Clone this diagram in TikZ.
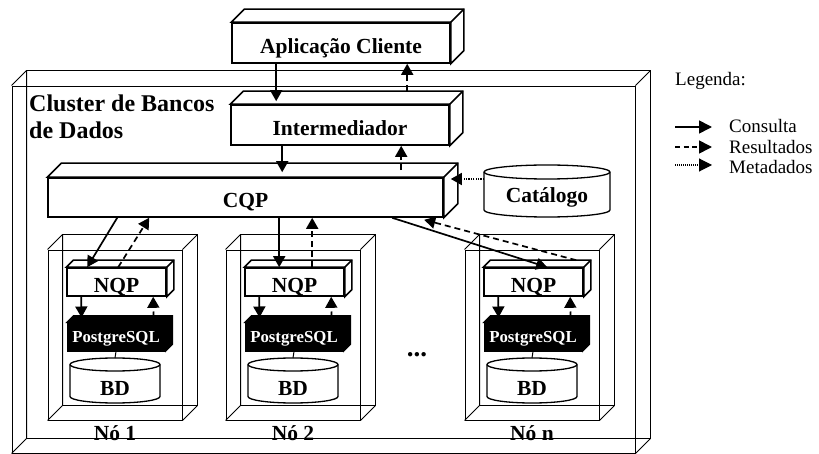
\documentclass[tikz,border=0pt]{standalone}
\usepackage{fontspec}
\setmainfont{Liberation Serif}
\usetikzlibrary{arrows.meta,calc}

% 3D extrusion (top and right faces) of a box node
\newcommand\myextrude[3]{%
  \filldraw[#3] (#1.north west) -- ++(#2,-#2) -- ($(#1.north east)+(#2,-#2)$) -- ($(#1.south east)+(#2,-#2)$) -- (#1.south east) -- (#1.north east) -- cycle;
  \draw[#3] (#1.north east) -- ++(#2,-#2);
}
% wireframe back face and edges of a transparent box node
\newcommand\mywire[3]{%
  \draw[#3] ($(#1.north west)+(#2,-#2)$) rectangle ($(#1.south east)+(#2,-#2)$)
    (#1.north west) -- ++(#2,-#2) (#1.north east) -- ++(#2,-#2)
    (#1.south west) -- ++(#2,-#2) (#1.south east) -- ++(#2,-#2);
}
% cylinder around a coordinate: name, rx, top offset, bottom offset, ry
\newcommand\mycyl[5]{%
  \filldraw[fill=white, line width=1.3pt] ($(#1)+(-#2,#3)$) -- ($(#1)+(-#2,#4)$)
    arc[start angle=180, end angle=360, x radius=#2pt, y radius=#5pt]
    -- ($(#1)+(#2,#3)$)
    arc[start angle=0, end angle=180, x radius=#2pt, y radius=#5pt] -- cycle;
  \draw[line width=1.3pt] ($(#1)+(-#2,#3)$) arc[start angle=180, end angle=360, x radius=#2pt, y radius=#5pt];
}

\tikzset{
  comp/.style={draw, fill=white, line width=1.6pt, inner sep=0pt,
    font=\bfseries\fontsize{21.5}{24}\selectfont, text height=20.6pt, text depth=0pt},
  compside/.style={fill=white, draw=black, line width=1.6pt},
  pgbox/.style={draw, fill=black, line width=1pt, inner sep=0pt, text=white,
    font=\bfseries\fontsize{16.8}{18}\selectfont, text height=11.2pt, text depth=0pt,
    minimum width=98pt, minimum height=28pt},
  pgside/.style={fill=black, draw=black, line width=1pt},
  nodeframe/.style={draw, line width=0.9pt, inner sep=0pt, minimum width=134pt, minimum height=170pt},
  thinline/.style={line width=0.9pt},
  lab/.style={font=\bfseries\fontsize{21.5}{24}\selectfont, inner sep=0pt, anchor=base},
  leg/.style={font=\fontsize{19}{22}\selectfont, inner sep=0pt, anchor=base west},
  cons/.style={line width=1.7pt, -{Triangle[length=11pt,width=12pt]}},
  res/.style={cons, dash pattern=on 6pt off 4pt},
  metad/.style={cons, dash pattern=on 1.2pt off 1.2pt},
  legcons/.style={line width=1.6pt, -{Triangle[length=13pt,width=13pt]}},
  legres/.style={legcons, dash pattern=on 5pt off 3.5pt},
  legmeta/.style={legcons, line width=1.1pt, dash pattern=on 1pt off 1pt},
}

% one database node: id, centre x, label
\newcommand\mydbnode[3]{%
  \node[nodeframe] (f#1) at (#2,335) {};
  \mywire{f#1}{15}{thinline}
  \node[comp, minimum width=99pt, minimum height=28pt] (nqp#1) at (#2+1.5,282) {NQP};
  \myextrude{nqp#1}{7}{compside}
  \node[pgbox] (pg#1) at (#2+1,337) {PostgreSQL};
  \myextrude{pg#1}{7}{pgside}
  \coordinate (bdc#1) at (#2,380.5);
  \mycyl{bdc#1}{45}{-16}{16}{6.5}
  \node[lab] (bd#1) at (#2,395) {BD};
  \coordinate (bdtop#1) at (#2,358);
  \draw[line width=1pt] (pg#1.south) -- (bdtop#1);
  \draw[cons] ([xshift=15pt]nqp#1.south west) -- ($(pg#1.north west)+(15,-5)$);
  \draw[res] ($(pg#1.north west)+(87,-5)$) -- ([xshift=87pt]nqp#1.south west);
  \node[lab] (lbl#1) at (#2,440) {#3};
}

\begin{document}
\begin{tikzpicture}[x=1pt, y=-1pt]
\useasboundingbox (0,0) rectangle (819,454);

% cluster frame
\node[draw, thinline, inner sep=0pt, minimum width=623pt, minimum height=367pt] (cluster) at (323.5,269.5) {};
\mywire{cluster}{15}{thinline}
\node[anchor=north west, align=left, inner sep=0pt, font=\bfseries\fontsize{24}{27}\selectfont] (clabel) at (29,94.5) {Cluster de Bancos\\de Dados};

% main components
\node[comp, minimum width=218pt, minimum height=40pt] (aplic) at (341,43) {Aplicação Cliente};
\myextrude{aplic}{13}{compside}
\node[comp, minimum width=218pt, minimum height=40pt] (inter) at (340,125) {Intermediador};
\myextrude{inter}{13}{compside}
\node[comp, minimum width=395pt, minimum height=39pt] (cqp) at (245.5,197.5) {CQP};
\myextrude{cqp}{14}{compside}

% catalogue
\coordinate (catc) at (547,191);
\mycyl{catc}{63}{-19}{19}{7}
\node[lab] (cat) at (547,203) {Catálogo};

% database nodes
\mydbnode{1}{115}{Nó 1}
\mydbnode{2}{293}{Nó 2}
\mydbnode{n}{532}{Nó n}
\node[lab, font=\bfseries\fontsize{27}{30}\selectfont] (dots) at (417,356) {...};

% connectors
\draw[cons] ([xshift=45pt]aplic.south west) -- ($(inter.north west)+(46,-3)$);
\draw[res] ($(inter.north west)+(177,-13)$) -- ([xshift=176pt]aplic.south west);
\draw[cons] ([xshift=52pt]inter.south west) -- ($(cqp.north west)+(235,-5)$);
\draw[res] ($(cqp.north west)+(354,-7)$) -- ([xshift=171pt]inter.south west);
\draw[metad] ($(catc)+(-63,-12)$) -- ($(cqp.east)+(7,-18.5)$);

\draw[cons] ([xshift=70pt]cqp.south west) -- ([xshift=21pt]nqp1.north west);
\draw[res] ([xshift=52pt]nqp1.north west) -- ([xshift=102pt]cqp.south west);
\draw[cons] ([xshift=232pt]cqp.south west) -- ([xshift=35pt]nqp2.north west);
\draw[res] ([xshift=68pt]nqp2.north west) -- ([xshift=265pt]cqp.south west);
\draw[cons] ([xshift=345pt]cqp.south west) -- ([xshift=64pt]nqpn.north west);
\draw[res] ($(nqpn.north west)+(93,-7)$) -- ($(cqp.south west)+(377,2)$);

% legend
\node[leg] (legtitle) at (675,86) {Legenda:};
\coordinate (l1s) at (675,127); \coordinate (l1e) at (712,127);
\coordinate (l2s) at (675,147); \coordinate (l2e) at (712,147);
\coordinate (l3s) at (675,165); \coordinate (l3e) at (712,165);
\draw[legcons] (l1s) -- (l1e);
\draw[legres] (l2s) -- (l2e);
\draw[legmeta] (l3s) -- (l3e);
\node[leg] (leg1) at (729,133) {Consulta};
\node[leg] (leg2) at (729,154) {Resultados};
\node[leg] (leg3) at (729,174) {Metadados};
\end{tikzpicture}
\end{document}
